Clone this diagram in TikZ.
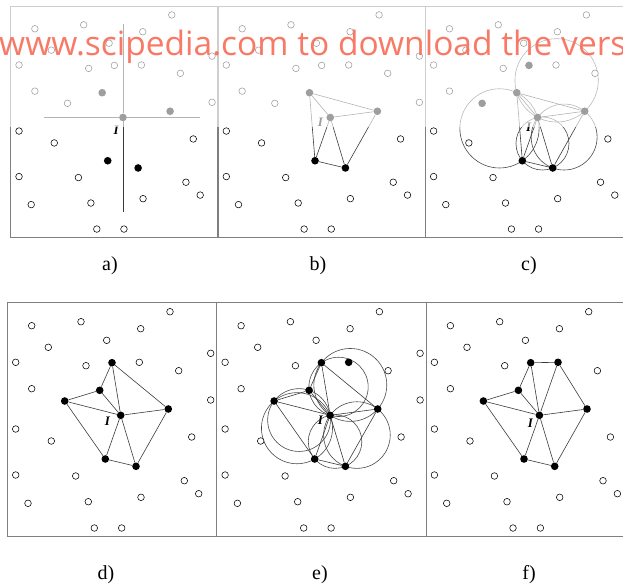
\documentclass[tikz,border=0pt]{standalone}
\usepackage{fontspec}
\setmainfont{Liberation Serif}
\newfontfamily\wmfont{Open Sans}
\usepackage{tikz}
\usetikzlibrary{positioning,calc}
\definecolor{framegray}{HTML}{7F7F7F}
\definecolor{edgegray}{HTML}{3A3A3A}
\definecolor{ringgray}{HTML}{4A4A4A}
\definecolor{wmsalmon}{HTML}{F86E58}

\tikzset{
  opendot/.style={circle, draw=black, fill=white, line width=0.55pt, inner sep=0pt, minimum size=6.6pt},
  fulldot/.style={circle, draw=none, fill=black, inner sep=0pt, minimum size=7.6pt},
  panel/.style={draw=framegray, line width=0.9pt},
  tri/.style={draw=edgegray, line width=0.6pt},
  ring/.style={draw=ringgray, line width=0.6pt},
  ilabel/.style={inner sep=0pt, font=\fontsize{13}{13}\selectfont\bfseries\itshape},
  caption/.style={inner sep=0pt, font=\fontsize{20}{20}\selectfont},
}

\newcommand{\sites}[3]{%
  \foreach \x/\y [count=\k] in {24.4/23, 73.7/19, 162.7/9, 133.4/26, 99.4/37.6, 41/44.6,
      203.4/50.6, 8.4/59.6, 78.7/63, 24.4/86, 203.4/97.3, 8.4/126.3, 44/138.3,
      184.4/134.3, 8.4/172.3, 68.4/173.3, 177/178, 191.4/191, 20.7/200.6, 81/199,
      133.7/194.6, 87/225.3, 114.4/225.3, 171.4/68}
    \node[opendot] (o\k) at (\x,\y) {};
  \node[#1] (A) at (104.7,60) {};
  \node[#2] (C) at (57.4,98.3) {};
  \node[#3] (G) at (132,59.6) {};
  \node[fulldot] (B) at (92.4,87.6) {};
  \node[fulldot] (I) at (113.4,112.6) {};
  \node[fulldot] (D) at (161,106.3) {};
  \node[fulldot] (E) at (98,156.3) {};
  \node[fulldot] (F) at (128.7,163.6) {};
}

\begin{document}
\begin{tikzpicture}[x=1pt,y=-1pt]
\useasboundingbox (0,0) rectangle (623,587);
\clip (0,0) rectangle (623,587);

\begin{scope}[shift={(10.7,6)}, scale=0.99, name prefix=a-]
  \draw[panel] (0,0) rectangle (209.3,234);
  \sites{opendot}{opendot}{opendot}
  \coordinate (top) at (113.4,18.2);
  \coordinate (bot) at (113.4,208.4);
  \coordinate (lft) at (33.9,112.6);
  \coordinate (rgt) at (191.2,112.6);
  \draw[tri] (I) -- (top) (I) -- (bot) (I) -- (lft) (I) -- (rgt);
  \node[ilabel] (lab) at (106.5,125) {I};
\end{scope}

\begin{scope}[shift={(218,6)}, scale=0.99, name prefix=b-]
  \draw[panel] (0,0) rectangle (209.3,234);
  \sites{opendot}{opendot}{opendot}
  \draw[tri] (B) -- (I) -- (D) -- (B) -- (E) -- (I) -- (F) -- (D) (E) -- (F);
  \node[ilabel] (lab) at (103.4,117.3) {I};
\end{scope}

\begin{scope}[shift={(425.3,6)}, scale=0.99, name prefix=c-]
  \draw[panel] (0,0) rectangle (209.3,234);
  \draw[ring] (132.65,75.1) circle[radius=42.1];
  \draw[ring] (74.92,123.6) circle[radius=40.02];
  \draw[ring] (118.35,138.9) circle[radius=26.77];
  \draw[ring] (140.23,132.35) circle[radius=33.3];
  \sites{fulldot}{fulldot}{opendot}
  \draw[tri] (B) -- (I) -- (D) -- (B) -- (E) -- (I) -- (F) -- (D) (E) -- (F);
  \node[ilabel] (lab) at (104.4,122.6) {I};
\end{scope}

\fill[white, opacity=0.62] (0,0) rectangle (623,127);

\begin{scope}[shift={(7.3,302.7)}, name prefix=d-]
  \draw[panel] (0,0) rectangle (209.3,234);
  \sites{fulldot}{fulldot}{opendot}
  \draw[tri] (A) -- (B) -- (C) -- (E) -- (F) -- (D) -- (A);
  \draw[tri] (I) -- (A) (I) -- (B) (I) -- (C) (I) -- (D) (I) -- (E) (I) -- (F);
  \node[ilabel] (lab) at (100,119) {I};
\end{scope}

\begin{scope}[shift={(216.7,302.7)}, name prefix=e-]
  \draw[panel] (0,0) rectangle (209.3,234);
  \draw[ring] (121.85,84.18) circle[radius=29.64];
  \draw[ring] (133.6,82.24) circle[radius=36.47];
  \draw[ring] (82.36,117.35) circle[radius=31.4];
  \draw[ring] (80.28,125.49) circle[radius=35.54];
  \draw[ring] (118.35,138.9) circle[radius=26.77];
  \draw[ring] (140.23,132.35) circle[radius=33.3];
  \sites{fulldot}{fulldot}{fulldot}
  \draw[tri] (A) -- (B) -- (C) -- (E) -- (F) -- (D) -- (A);
  \draw[tri] (I) -- (A) (I) -- (B) (I) -- (C) (I) -- (D) (I) -- (E) (I) -- (F);
  \node[ilabel] (lab) at (103.7,117.3) {I};
\end{scope}

\begin{scope}[shift={(426,302.7)}, name prefix=f-]
  \draw[panel] (0,0) rectangle (209.3,234);
  \sites{fulldot}{fulldot}{fulldot}
  \draw[tri] (A) -- (G) -- (D) -- (F) -- (E) -- (C) -- (B) -- (A);
  \draw[tri] (I) -- (A) (I) -- (B) (I) -- (C) (I) -- (D) (I) -- (E) (I) -- (F) (I) -- (G);
  \node[ilabel] (lab) at (104.4,120.6) {I};
\end{scope}

\node[caption] (capa) at (110,266) {a)};
\node[caption] (capb) at (318,266) {b)};
\node[caption] (capc) at (529,266) {c)};
\node[caption] (capd) at (106,575) {d)};
\node[caption] (cape) at (320,575) {e)};
\node[caption] (capf) at (529,575) {f)};

\node[anchor=base west, inner sep=0pt, text=wmsalmon, opacity=0.92, font=\wmfont\fontsize{33.5}{33.5}\selectfont] (wm) at (-1,55.5) {www.scipedia.com to download the vers};
\end{tikzpicture}
\end{document}
